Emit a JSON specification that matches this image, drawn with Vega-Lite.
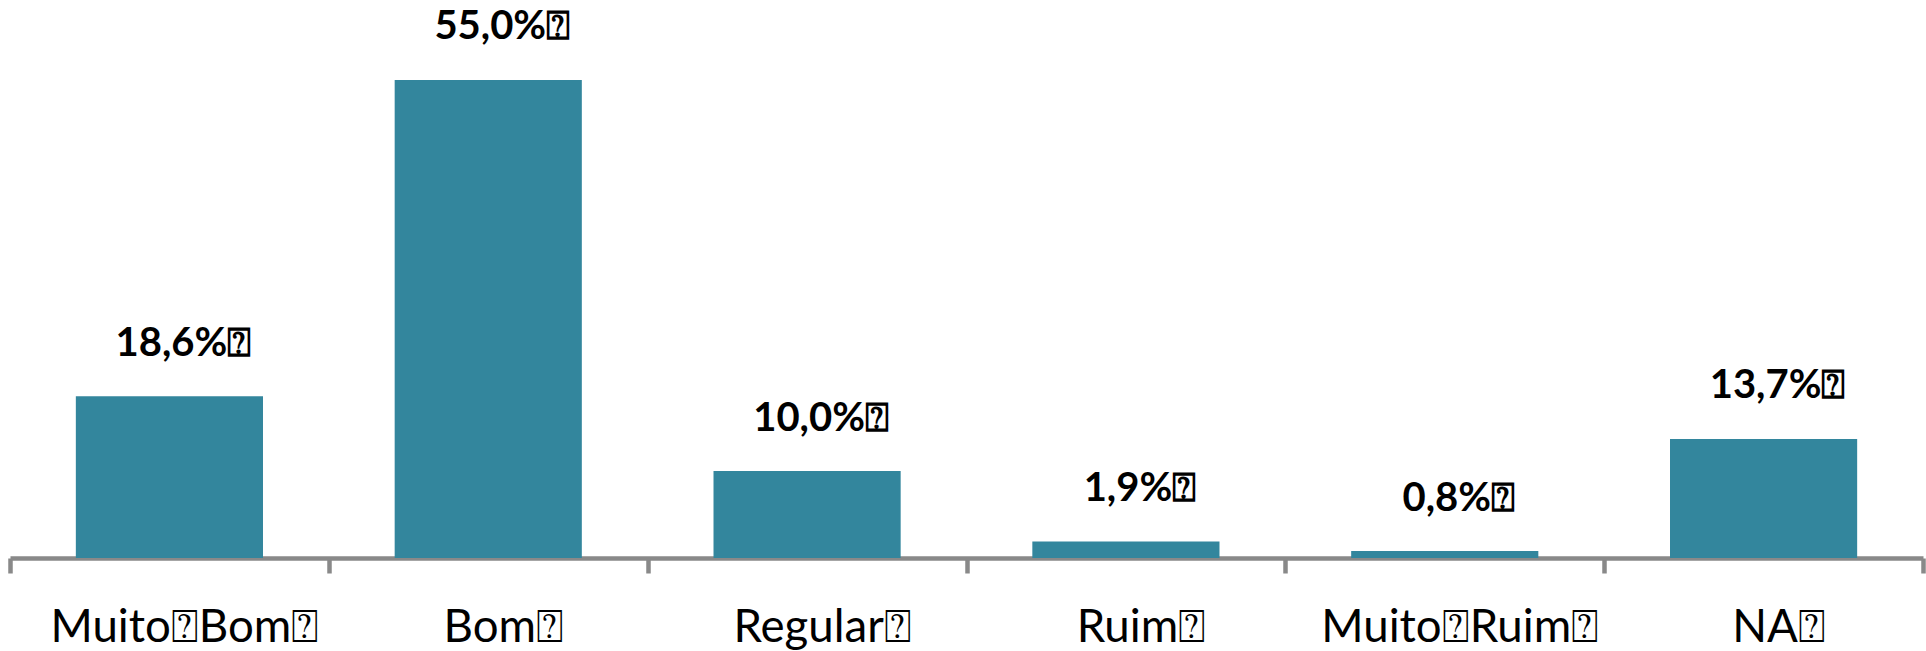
{
  "$schema": "https://vega.github.io/schema/vega-lite/v6.json",
  "autosize": {"type": "none"},
  "width": 1913,
  "height": 558,
  "padding": {"left": 10, "right": 3, "top": 0, "bottom": 93},
  "background": "#ffffff",
  "config": {"view": {"stroke": null}},
  "data": {
    "values": [
      {"categoria": "Muito⍰Bom⍰", "valor": 18.6, "rotulo": "18,6%⍰"},
      {"categoria": "Bom⍰", "valor": 55.0, "rotulo": "55,0%⍰"},
      {"categoria": "Regular⍰", "valor": 10.0, "rotulo": "10,0%⍰"},
      {"categoria": "Ruim⍰", "valor": 1.9, "rotulo": "1,9%⍰"},
      {"categoria": "Muito⍰Ruim⍰", "valor": 0.8, "rotulo": "0,8%⍰"},
      {"categoria": "NA⍰", "valor": 13.7, "rotulo": "13,7%⍰"}
    ]
  },
  "encoding": {
    "x": {
      "field": "categoria",
      "type": "nominal",
      "sort": null,
      "scale": {"paddingInner": 0, "paddingOuter": 0},
      "axis": {
        "title": null,
        "labelAngle": 0,
        "labelFont": "Lato",
        "labelFontSize": 45.6,
        "labelColor": "#000000",
        "labelBaseline": "alphabetic",
        "labelPadding": 68,
        "labelOffset": 15,
        "labelOverlap": false,
        "labelLimit": 0,
        "tickBand": "extent",
        "tickSize": 15,
        "tickWidth": 4.5,
        "tickColor": "#898989",
        "domainWidth": 4.5,
        "domainColor": "#898989"
      }
    },
    "y": {
      "field": "valor",
      "type": "quantitative",
      "scale": {"domain": [0, 64.2], "nice": false},
      "axis": null
    }
  },
  "layer": [
    {
      "mark": {"type": "bar", "color": "#33869D", "width": {"band": 0.587}}
    },
    {
      "mark": {
        "type": "text",
        "font": "Lato",
        "fontWeight": "bold",
        "fontSize": 40,
        "color": "#000000",
        "baseline": "alphabetic",
        "align": "center",
        "dy": -40.5,
        "dx": 14
      },
      "encoding": {"text": {"field": "rotulo"}}
    }
  ]
}
